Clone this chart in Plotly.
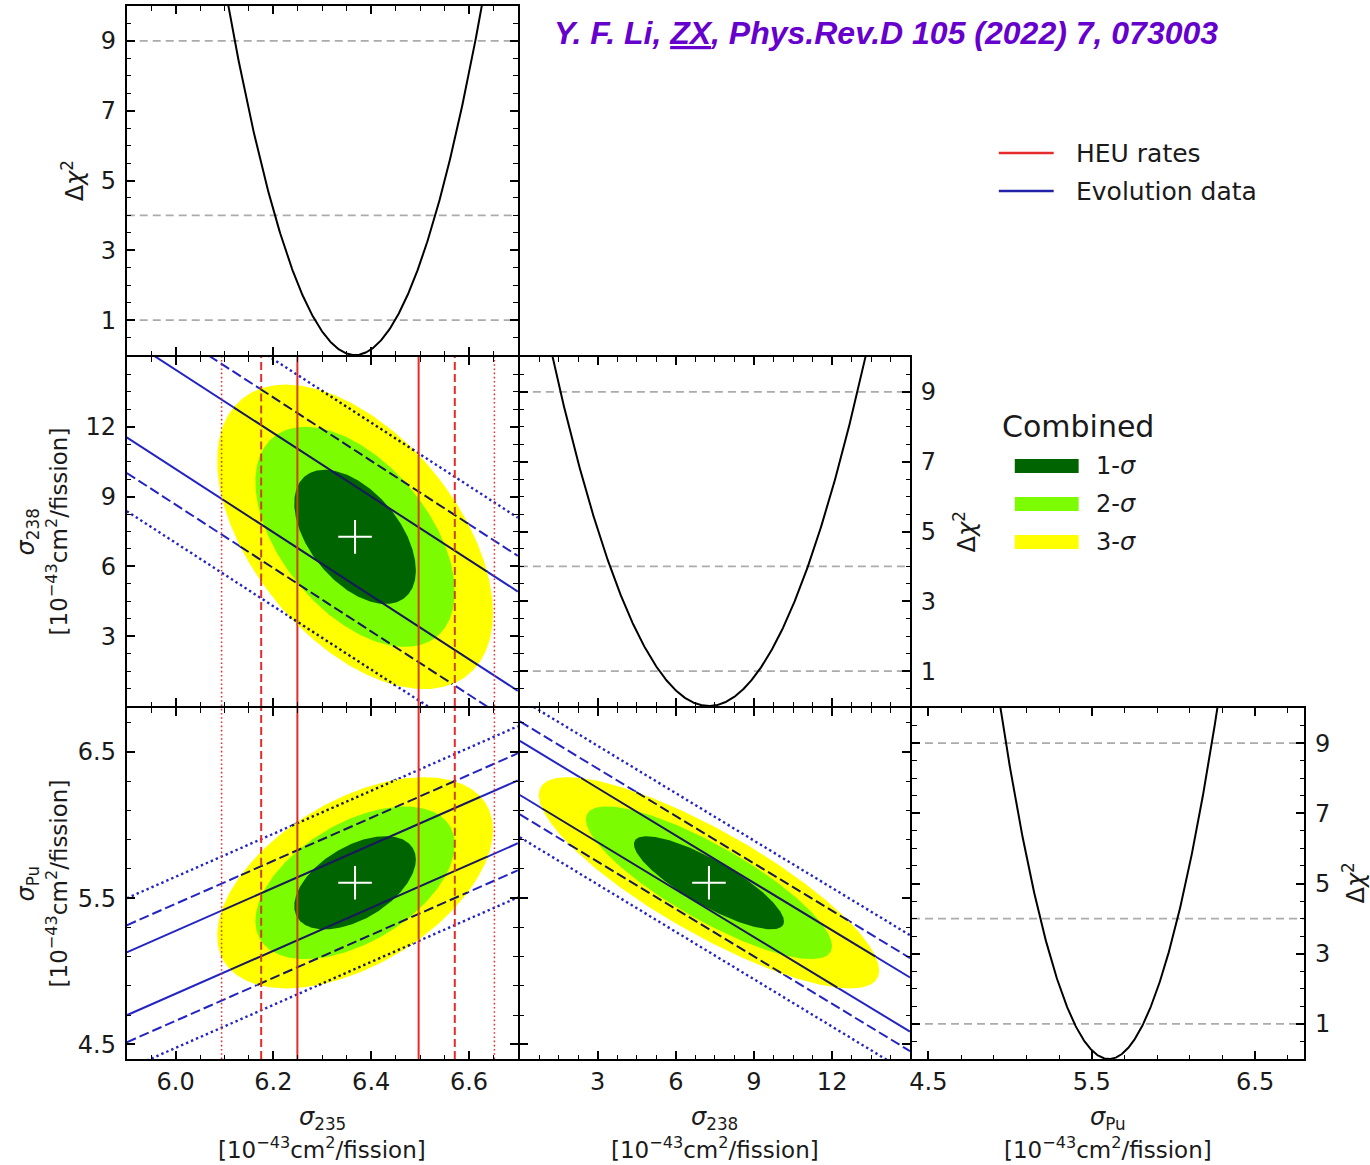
import numpy as np
import plotly.graph_objects as go

FONT = "DejaVu Sans"

# ---------------------------------------------------------------- data ----
# best-fit IBD yields and their 1-sigma errors [1e-43 cm^2/fission]
param_names = ["235", "238", "Pu"]
best_fit = [6.367, 7.27, 5.605]
one_sigma = [0.082, 1.90, 0.21]

# correlation coefficients of the parameter pairs
pair_index = [(0, 1), (0, 2), (1, 2)]
pair_rho = [-0.50, 0.50, -0.83]

# two-parameter Delta chi^2 thresholds of the 1/2/3-sigma regions
region_dchi2 = [2.30, 6.18, 11.83]
region_labels = ["1-σ", "2-σ", "3-σ"]

# horizontal reference levels of the 1-D profiles
profile_levels = [1, 4, 9]

# HEU rate measurement of sigma_235: centre and 1/2/3-sigma half widths
heu_center = 6.373
heu_half = [0.124, 0.198, 0.279]

# evolution-data bands per pair: slope, point on the centre line,
# and vertical half widths of the 1/2/3-sigma bands
evo_slope = [-13.6, 1.47, -0.108]
evo_anchor_x = [6.37, 6.37, 7.27]
evo_anchor_y = [7.28, 5.605, 5.606]
evo_half = [[2.13, 3.66, 5.30], [0.215, 0.40, 0.585], [0.185, 0.318, 0.474]]

# axes: ranges, labelled tick start/step, minor tick step, label format
axis_range = [[5.9, 6.7], [0.01, 14.99], [4.4, 6.8]]
axis_tick0 = [6.0, 3, 4.5]
axis_dtick = [0.2, 3, 1.0]
axis_minor_step = [0.05, 0.75, 0.2]
axis_minor_start = [6.0, 0.0, 4.5]
axis_format = [".1f", "d", ".1f"]
dchi2_range = [0, 10]
dchi2_tick0, dchi2_dtick, dchi2_minor = 1, 2, 0.5

# ---------------------------------------------------------------- style ---
W, H = 1370, 1165
col_edges = [123, 517, 910, 1305]
row_edges = [5, 356, 707, 1060]
LW = 2  # frame width; panels are inset by half of it so shared frames coincide

BLUE, BLUE_IN = "#2424c4", "#18185c"
RED, RED_IN = "#e52b2b", "#c8460f"
FILL = ["#006400", "#7cfc00", "#ffff00"]
GRAY = "#ababab"
styles = [("solid", 2.0), ("10px,4px", 2.0), ("2.4px,3px", 2.4)]
red_styles = [("solid", 2.0), ("8px,4px", 2.0), ("1.6px,2.6px", 1.5)]


def px(x):
    return x / W


def py(y):
    return 1 - y / H


def ax_ids(k):
    return ("x" if k == 1 else f"x{k}", "y" if k == 1 else f"y{k}")


# (axis number, column, row, x parameter, y parameter or None for a profile)
panels = [
    (1, 0, 0, 0, None),
    (2, 0, 1, 0, 1),
    (3, 1, 1, 1, None),
    (4, 0, 2, 0, 2),
    (5, 1, 2, 1, 2),
    (6, 2, 2, 2, None),
]

fig = go.Figure()


def add_line(k, x, y, color, dash, width):
    xa, ya = ax_ids(k)
    fig.add_trace(go.Scatter(x=x, y=y, mode="lines", xaxis=xa, yaxis=ya,
                             line=dict(color=color, dash=dash, width=width),
                             showlegend=False, hoverinfo="skip"))


def chord(p0, v, mu, A, level):
    """Part of the line p0 + t v lying inside the ellipse d^T A d = level."""
    d0 = p0 - mu
    a = v @ A @ v
    b = 2 * d0 @ A @ v
    c = d0 @ A @ d0 - level
    disc = b * b - 4 * a * c
    if disc <= 0:
        return None
    r = np.sqrt(disc)
    t1, t2 = (-b - r) / (2 * a), (-b + r) / (2 * a)
    return p0 + t1 * v, p0 + t2 * v


for k, c, r, xi, yi in panels:
    xa, ya = ax_ids(k)
    xlo, xhi = axis_range[xi]
    if yi is None:
        # 1-D Delta chi^2 profile
        for lev in profile_levels:
            add_line(k, [xlo, xhi], [lev, lev], GRAY, "8px,5px", 1.6)
        xs = np.linspace(xlo, xhi, 600)
        d = ((xs - best_fit[xi]) / one_sigma[xi]) ** 2
        d = np.where(d <= 10.6, d, np.nan)
        add_line(k, xs, d, "black", "solid", 2.0)
        continue

    ylo, yhi = axis_range[yi]
    p = pair_index.index((xi, yi))
    mu = np.array([best_fit[xi], best_fit[yi]])
    sx, sy = one_sigma[xi], one_sigma[yi]
    cov = np.array([[sx * sx, pair_rho[p] * sx * sy], [pair_rho[p] * sx * sy, sy * sy]])
    A = np.linalg.inv(cov)
    Lc = np.linalg.cholesky(cov)

    segments = []
    # evolution-data bands
    for li, (dash, wd) in enumerate(styles):
        for sgn in (-1, 1):
            y0 = evo_anchor_y[p] + sgn * evo_half[p][li]
            yy = [y0 + evo_slope[p] * (x - evo_anchor_x[p]) for x in (xlo, xhi)]
            add_line(k, [xlo, xhi], yy, BLUE, dash, wd)
            seg = chord(np.array([evo_anchor_x[p], y0]), np.array([1.0, evo_slope[p]]),
                        mu, A, region_dchi2[-1])
            if seg is not None:
                segments.append((seg, BLUE_IN, dash, wd))
    # HEU rate bands (sigma_235 only)
    if xi == 0:
        for li, (dash, wd) in enumerate(red_styles):
            for sgn in (-1, 1):
                xv = heu_center + sgn * heu_half[li]
                add_line(k, [xv, xv], [ylo, yhi], RED, dash, wd)
                seg = chord(np.array([xv, mu[1]]), np.array([0.0, 1.0]), mu, A,
                            region_dchi2[-1])
                if seg is not None:
                    segments.append((seg, RED_IN, dash, wd))

    # combined allowed regions
    t = np.linspace(0, 2 * np.pi, 400)
    circle = np.vstack([np.cos(t), np.sin(t)])
    for li in (2, 1, 0):
        pts = mu[:, None] + np.sqrt(region_dchi2[li]) * (Lc @ circle)
        fig.add_trace(go.Scatter(x=pts[0], y=pts[1], mode="lines", fill="toself",
                                 fillcolor=FILL[li], line=dict(width=0, color=FILL[li]),
                                 xaxis=xa, yaxis=ya, showlegend=False, hoverinfo="skip"))

    # band lines seen through the allowed regions
    for (a0, a1), col, dash, wd in segments:
        add_line(k, [a0[0], a1[0]], [a0[1], a1[1]], col, dash, wd)

    # best fit
    fig.add_trace(go.Scatter(x=[best_fit[xi]], y=[best_fit[yi]], mode="markers",
                             xaxis=xa, yaxis=ya, showlegend=False, hoverinfo="skip",
                             marker=dict(symbol="cross-thin", size=24,
                                         line=dict(color="white", width=2))))

# ---------------------------------------------------------------- axes ----
base = dict(showline=True, linecolor="black", linewidth=LW, mirror="allticks",
            ticks="inside", ticklen=8, tickwidth=1.5, tickcolor="black",
            showgrid=False, zeroline=False, tickmode="linear",
            tickfont=dict(family=FONT, size=24, color="#1a1a1a"))


def minor(step, start):
    return dict(ticks="inside", ticklen=4.5, tickwidth=1.2, tickcolor="black",
                dtick=step, tick0=start, showgrid=False)


layout_axes = {}
for k, c, r, xi, yi in panels:
    xa, ya = ax_ids(k)
    xname = "xaxis" if k == 1 else f"xaxis{k}"
    yname = "yaxis" if k == 1 else f"yaxis{k}"
    xdom = [px(col_edges[c] + LW / 2), px(col_edges[c + 1] - LW / 2)]
    ydom = [py(row_edges[r + 1] - LW / 2), py(row_edges[r] + LW / 2)]
    xax = dict(base, domain=xdom, anchor=ya, range=axis_range[xi],
               tick0=axis_tick0[xi], dtick=axis_dtick[xi], tickformat=axis_format[xi],
               showticklabels=(r == 2),
               minor=minor(axis_minor_step[xi], axis_minor_start[xi]))
    if yi is None:
        yax = dict(base, domain=ydom, anchor=xa, range=dchi2_range,
                   tick0=dchi2_tick0, dtick=dchi2_dtick, tickformat="d",
                   showticklabels=True, side="left" if c == 0 else "right",
                   ticklabelstandoff=4, minor=minor(dchi2_minor, 0))
    else:
        yax = dict(base, domain=ydom, anchor=xa, range=axis_range[yi],
                   tick0=axis_tick0[yi], dtick=axis_dtick[yi], tickformat=axis_format[yi],
                   showticklabels=(c == 0), ticklabelstandoff=4,
                   minor=minor(axis_minor_step[yi], axis_minor_start[yi]))
    layout_axes[xname] = xax
    layout_axes[yname] = yax

# ---------------------------------------------------------------- text ----
ann = []
lab_font = dict(family=FONT, size=23, color="#1a1a1a")
unit = "[10<sup>−43</sup>cm<sup>2</sup>/fission]"


def text(x, y, s, size=23, angle=0, xanchor="center", **kw):
    ann.append(dict(x=px(x), y=py(y), xref="paper", yref="paper", text=s,
                    showarrow=False, textangle=angle, xanchor=xanchor, yanchor="middle",
                    font=dict(lab_font, size=size), **kw))


# x titles
for c, name in enumerate(param_names):
    xc = (col_edges[c] + col_edges[c + 1]) / 2
    text(xc, 1118, f"<i>σ</i><sub>{name}</sub>", 24)
    text(xc, 1148, unit, 23)

# y titles of the 2-D panels
for r, name in ((1, "238"), (2, "Pu")):
    yc = (row_edges[r] + row_edges[r + 1]) / 2
    text(25, yc, f"<i>σ</i><sub>{name}</sub>", 24, angle=-90)
    text(54, yc, unit, 23, angle=-90)

# Delta chi^2 titles
dchi = "Δ<i>χ</i><sup>2</sup>"
text(70, (row_edges[0] + row_edges[1]) / 2, dchi, 24, angle=-90)
text(964, (row_edges[1] + row_edges[2]) / 2, dchi, 24, angle=-90)
text(1353, (row_edges[2] + row_edges[3]) / 2, dchi, 24, angle=-90)

# reference
ann.append(dict(x=px(885), y=py(33), xref="paper", yref="paper", showarrow=False,
                text="<b><i>Y. F. Li, <u>ZX</u>, Phys.Rev.D 105 (2022) 7, 073003</i></b>",
                font=dict(family="Liberation Sans", size=32, color="#6600cc"),
                xanchor="center", yanchor="middle"))

# legends
shapes = []
for yv, col, lab in ((153, RED, "HEU rates"), (191, "#2222a8", "Evolution data")):
    shapes.append(dict(type="line", xref="paper", yref="paper",
                       x0=px(998), x1=px(1053), y0=py(yv), y1=py(yv),
                       line=dict(color=col, width=2.5)))
    text(1073, yv, lab, 25, xanchor="left")

text(999, 427, "Combined", 30, xanchor="left")
for li, yv in enumerate((466, 504, 542)):
    shapes.append(dict(type="rect", xref="paper", yref="paper",
                       x0=px(1014), x1=px(1078), y0=py(yv + 7), y1=py(yv - 7),
                       fillcolor=FILL[li], line=dict(width=0)))
    text(1093, yv, region_labels[li].replace("σ", "<i>σ</i>"), 24, xanchor="left")

fig.update_layout(width=W, height=H, margin=dict(l=0, r=0, t=0, b=0),
                  paper_bgcolor="white", plot_bgcolor="white",
                  annotations=ann, shapes=shapes, showlegend=False,
                  font=dict(family=FONT), **layout_axes)

fig.write_html("out.html")
